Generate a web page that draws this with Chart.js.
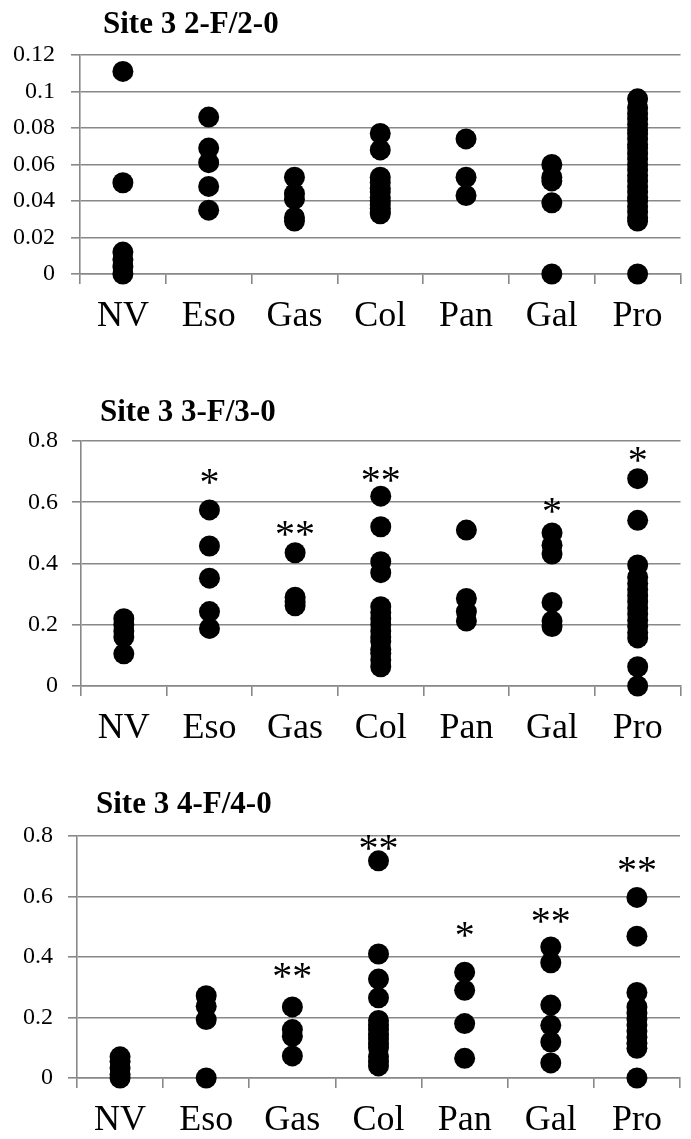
<!DOCTYPE html>
<html>
<head>
<meta charset="utf-8">
<script src="https://cdn.jsdelivr.net/npm/chart.js@4.4.0/dist/chart.umd.min.js"></script>
<style>
  body { margin: 0; background: #fff; }
  #wrap { position: relative; width: 691px; height: 1139px; }
  canvas { position: absolute; left: 0; }
</style>
</head>
<body>
<div id="wrap">
  <canvas id="site2" width="691" height="345" style="top:0px"></canvas>
  <canvas id="site3" width="691" height="390" style="top:370px"></canvas>
  <canvas id="site4" width="691" height="379" style="top:760px"></canvas>
</div>
<script>
// categories shared by the three panels
const categories = ['NV', 'Eso', 'Gas', 'Col', 'Pan', 'Gal', 'Pro'];

// Site 3 2-F/2-0
const site2Values = [
  [0.111, 0.050, 0.012, 0.008, 0.004, 0],
  [0.086, 0.069, 0.061, 0.048, 0.035],
  [0.053, 0.044, 0.041, 0.031, 0.029],
  [0.077, 0.068, 0.053, 0.050, 0.047, 0.045, 0.042, 0.040, 0.038, 0.036, 0.034, 0.033],
  [0.074, 0.053, 0.043],
  [0.060, 0.053, 0.051, 0.039, 0],
  [0.096, 0.091, 0.088, 0.085, 0.082, 0.079, 0.077, 0.074, 0.071, 0.069, 0.066, 0.063,
   0.060, 0.057, 0.054, 0.051, 0.048, 0.045, 0.042, 0.040, 0.037, 0.034, 0.031, 0.029, 0]
];
const site2Ticks = ['0', '0.02', '0.04', '0.06', '0.08', '0.1', '0.12'];
const site2Stars = ['', '', '', '', '', '', ''];
const site2StarLevels = [null, null, null, null, null, null, null];

// Site 3 3-F/3-0
const site3Values = [
  [0.22, 0.20, 0.18, 0.16, 0.105],
  [0.575, 0.457, 0.352, 0.243, 0.188],
  [0.435, 0.29, 0.275, 0.262],
  [0.62, 0.52, 0.406, 0.37, 0.259, 0.24, 0.22, 0.20, 0.18, 0.16, 0.145, 0.12, 0.107, 0.085, 0.063],
  [0.509, 0.286, 0.243, 0.212],
  [0.50, 0.46, 0.431, 0.273, 0.212, 0.194],
  [0.677, 0.541, 0.395, 0.355, 0.335, 0.315, 0.295, 0.275, 0.255, 0.235, 0.215, 0.195, 0.175, 0.157, 0.063, 0]
];
const site3Ticks = ['0', '0.2', '0.4', '0.6', '0.8'];
const site3Stars = ['', '*', '**', '**', '', '*', '*'];
const site3StarLevels = [null, 0.689, 0.52, 0.695, null, 0.594, 0.76];

// Site 3 4-F/4-0
const site4Values = [
  [0.07, 0.055, 0.033, 0.012, 0],
  [0.272, 0.237, 0.193, 0],
  [0.235, 0.16, 0.138, 0.073],
  [0.718, 0.41, 0.327, 0.265, 0.19, 0.175, 0.16, 0.145, 0.13, 0.115, 0.10, 0.07, 0.055, 0.04],
  [0.35, 0.29, 0.18, 0.065],
  [0.433, 0.381, 0.241, 0.174, 0.119, 0.05],
  [0.597, 0.469, 0.283, 0.235, 0.215, 0.195, 0.175, 0.155, 0.135, 0.115, 0.098, 0]
];
const site4Ticks = ['0', '0.2', '0.4', '0.6', '0.8'];
const site4Stars = ['', '', '**', '**', '*', '**', '**'];
const site4StarLevels = [null, null, 0.359, 0.784, 0.497, 0.541, 0.712];

const SERIF = '"Liberation Serif", "Times New Roman", serif';
const GRID = '#888888';

// title and significance stars drawn on top of the points
const extras = {
  id: 'extras',
  afterDatasetsDraw(chart, args, opts) {
    const ctx = chart.ctx;
    const xs = chart.scales.x, ys = chart.scales.y;
    ctx.save();
    ctx.fillStyle = '#000';
    ctx.textBaseline = 'alphabetic';
    ctx.textAlign = 'left';
    ctx.font = 'bold 31px ' + SERIF;
    ctx.fillText(opts.title, opts.titleX, opts.titleY);
    ctx.textAlign = 'center';
    ctx.font = '40px ' + SERIF;
    opts.stars.forEach((s, i) => {
      if (!s) return;
      ctx.fillText(s, xs.getPixelForValue(i), ys.getPixelForValue(opts.levels[i]) + 20);
    });
    ctx.restore();
  }
};

function drawPanel(id, cfg) {
  const points = [];
  cfg.values.forEach((list, i) => {
    list.forEach(v => points.push({ x: categories[i], y: v }));
  });

  new Chart(document.getElementById(id), {
    type: 'scatter',
    data: {
      labels: categories,
      datasets: [{
        data: points,
        pointRadius: 10.5,
        pointHoverRadius: 10.5,
        pointBackgroundColor: '#000',
        pointBorderWidth: 0,
        showLine: false,
        clip: false
      }]
    },
    options: {
      responsive: false,
      animation: false,
      events: [],
      layout: { padding: { top: cfg.top, right: cfg.right, left: 0, bottom: 0 } },
      plugins: {
        legend: { display: false },
        tooltip: { enabled: false },
        extras: {
          title: cfg.title, titleX: cfg.titleX, titleY: cfg.titleY,
          stars: cfg.stars, levels: cfg.levels
        }
      },
      scales: {
        x: {
          type: 'category',
          labels: categories,
          offset: true,
          afterFit: s => { s.height = cfg.xHeight; },
          grid: { offset: true, drawOnChartArea: false, drawTicks: true, tickLength: 10, color: GRID, lineWidth: 1.6 },
          border: { color: GRID, width: 1.6 },
          ticks: { color: '#000', padding: 11, font: { family: SERIF, size: 36 } }
        },
        y: {
          min: 0,
          max: cfg.max,
          afterFit: s => { s.width = cfg.left; },
          ticks: {
            stepSize: cfg.step,
            color: '#000',
            padding: cfg.pad,
            font: { family: SERIF, size: 24 },
            callback: (v, i) => cfg.ticks[i]
          },
          grid: { color: GRID, lineWidth: 1.6, tickLength: 9 },
          border: { color: GRID, width: 1.6 }
        }
      }
    },
    plugins: [extras]
  });
}

drawPanel('site2', {
  values: site2Values, ticks: site2Ticks, stars: site2Stars, levels: site2StarLevels,
  max: 0.12, step: 0.02, title: 'Site 3 2-F/2-0', titleX: 103, titleY: 33,
  top: 55, right: 0, left: 80, xHeight: 71, pad: 16
});
drawPanel('site3', {
  values: site3Values, ticks: site3Ticks, stars: site3Stars, levels: site3StarLevels,
  max: 0.8, step: 0.2, title: 'Site 3 3-F/3-0', titleX: 100, titleY: 51,
  top: 71, right: 6, left: 81, xHeight: 74, pad: 14
});
drawPanel('site4', {
  values: site4Values, ticks: site4Ticks, stars: site4Stars, levels: site4StarLevels,
  max: 0.8, step: 0.2, title: 'Site 3 4-F/4-0', titleX: 96, titleY: 53,
  top: 76, right: 11, left: 77, xHeight: 61, pad: 15
});
</script>
</body>
</html>
